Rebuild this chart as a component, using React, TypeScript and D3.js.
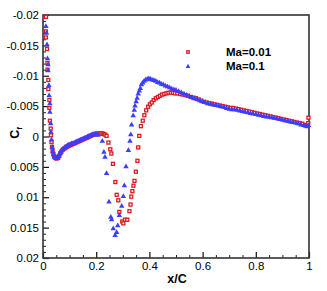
import React, { useEffect, useRef } from "react";
import * as d3 from "d3";

// skin friction, Ma = 0.01 (red squares)
const ma001: [number, number][] = [
  [0.011, -0.0197], [0.011, -0.0173], [0.011, -0.0163], [0.015, -0.0144], [0.017, -0.0121],
  [0.017, -0.011], [0.02, -0.0093], [0.02, -0.0078], [0.024, -0.006], [0.024, -0.0047],
  [0.026, -0.0026], [0.029, -0.0013], [0.03, -0.0002], [0.032, 0.0009], [0.034, 0.0017],
  [0.036, 0.0024], [0.039, 0.0029], [0.042, 0.0032],
  [0.045, 0.0034], [0.049, 0.0036], [0.053, 0.0036], [0.057, 0.0035], [0.061, 0.0032],
  [0.065, 0.0028], [0.069, 0.0025], [0.074, 0.0022], [0.079, 0.002], [0.084, 0.0019],
  [0.089, 0.0017], [0.094, 0.0016], [0.099, 0.0015], [0.104, 0.0014], [0.109, 0.0013],
  [0.114, 0.0012], [0.119, 0.0011], [0.124, 0.001], [0.129, 0.0009], [0.134, 0.0008],
  [0.139, 0.0007], [0.144, 0.0006], [0.149, 0.0005], [0.154, 0.0004], [0.159, 0.0003],
  [0.164, 0.0002], [0.169, 0.0001], [0.174, 0.0], [0.179, -0.0001], [0.184, -0.0002],
  [0.189, -0.0003], [0.194, -0.0003], [0.199, -0.0004], [0.204, -0.0004], [0.209, -0.0005],
  [0.214, -0.0005], [0.219, -0.0005], [0.224, -0.0005], [0.229, -0.0004], [0.234, -0.0003],
  [0.239, -0.0001],
  [0.246, 0.001], [0.253, 0.0021], [0.257, 0.0028], [0.263, 0.0045], [0.272, 0.0075],
  [0.277, 0.0096], [0.283, 0.0105], [0.287, 0.0124], [0.298, 0.014], [0.302, 0.0143],
  [0.308, 0.0137], [0.317, 0.0137], [0.325, 0.0123], [0.329, 0.0112], [0.332, 0.0099],
  [0.336, 0.009], [0.34, 0.0081], [0.344, 0.0073], [0.349, 0.0058], [0.355, 0.004],
  [0.358, 0.0018], [0.362, -0.0001],
  [0.368, -0.0017], [0.375, -0.0026], [0.381, -0.0035], [0.388, -0.0043], [0.395, -0.0049],
  [0.402, -0.0053], [0.409, -0.0056], [0.416, -0.006], [0.424, -0.0063], [0.432, -0.0065],
  [0.44, -0.0067], [0.448, -0.0069], [0.456, -0.007], [0.464, -0.0071], [0.472, -0.0072],
  [0.48, -0.0072], [0.488, -0.0072], [0.496, -0.0071], [0.505, -0.0071], [0.515, -0.007],
  [0.525, -0.0069], [0.535, -0.0068], [0.545, -0.0067], [0.555, -0.0065], [0.565, -0.0064],
  [0.575, -0.0063], [0.585, -0.0061], [0.595, -0.0059], [0.605, -0.0057], [0.615, -0.0056],
  [0.625, -0.0055], [0.635, -0.0054], [0.645, -0.0053], [0.655, -0.0052], [0.665, -0.0051],
  [0.675, -0.005], [0.685, -0.0049], [0.695, -0.0048], [0.705, -0.0047], [0.715, -0.0047],
  [0.725, -0.0046], [0.735, -0.0045], [0.745, -0.0044], [0.755, -0.0043], [0.765, -0.0042],
  [0.775, -0.0041], [0.785, -0.004], [0.795, -0.0039], [0.805, -0.0038], [0.815, -0.0037],
  [0.825, -0.0036], [0.835, -0.0035], [0.845, -0.0034], [0.855, -0.0033], [0.865, -0.0032],
  [0.875, -0.0031], [0.885, -0.003], [0.895, -0.0029], [0.905, -0.0028], [0.915, -0.0027],
  [0.925, -0.0026], [0.935, -0.0025], [0.945, -0.0024], [0.955, -0.0023], [0.965, -0.0022],
  [0.975, -0.0021], [0.985, -0.0019], [0.992, -0.0018], [0.997, -0.0022], [0.998, -0.0031]
];

// skin friction, Ma = 0.1 (blue triangles)
const ma01: [number, number][] = [
  [0.011, -0.0182], [0.013, -0.0171], [0.015, -0.0152], [0.017, -0.0129], [0.019, -0.0119],
  [0.019, -0.0109], [0.022, -0.0085], [0.023, -0.0068], [0.026, -0.0055], [0.026, -0.0041],
  [0.029, -0.0022], [0.03, -0.0008], [0.032, 0.0005], [0.035, 0.0017], [0.037, 0.0024],
  [0.04, 0.0029],
  [0.043, 0.0033], [0.047, 0.0035], [0.051, 0.0035], [0.055, 0.0034], [0.059, 0.0031],
  [0.063, 0.0027], [0.067, 0.0024], [0.072, 0.0021], [0.077, 0.0019], [0.082, 0.0017],
  [0.087, 0.0016], [0.092, 0.0014], [0.097, 0.0013], [0.102, 0.0012], [0.107, 0.0011],
  [0.112, 0.0011], [0.117, 0.001], [0.122, 0.0009], [0.127, 0.0008], [0.132, 0.0007],
  [0.137, 0.0006], [0.142, 0.0005], [0.147, 0.0004], [0.152, 0.0003], [0.157, 0.0002],
  [0.162, 0.0001], [0.167, 0.0], [0.172, -0.0001], [0.177, -0.0002], [0.182, -0.0003],
  [0.187, -0.0004], [0.192, -0.0005], [0.197, -0.0005], [0.202, -0.0005], [0.207, -0.0003],
  [0.223, 0.0007], [0.229, 0.0025], [0.233, 0.0033], [0.239, 0.006], [0.248, 0.0107],
  [0.255, 0.0132], [0.258, 0.0136], [0.264, 0.0151], [0.271, 0.0162], [0.277, 0.0157],
  [0.281, 0.0146], [0.287, 0.0129], [0.296, 0.0114], [0.302, 0.0098], [0.306, 0.008],
  [0.312, 0.0049], [0.321, 0.0022], [0.327, 0.0007], [0.33, -0.0004], [0.333, -0.002],
  [0.339, -0.0035], [0.343, -0.0044],
  [0.346, -0.0051], [0.35, -0.0058], [0.354, -0.0064], [0.358, -0.0071], [0.362, -0.0076],
  [0.366, -0.008], [0.37, -0.0086], [0.375, -0.0089], [0.38, -0.0092], [0.386, -0.0094],
  [0.392, -0.0095], [0.398, -0.0096], [0.404, -0.0095], [0.41, -0.0094], [0.417, -0.0093],
  [0.424, -0.0092], [0.431, -0.009], [0.438, -0.0089], [0.445, -0.0087], [0.452, -0.0086],
  [0.46, -0.0084], [0.468, -0.0083], [0.476, -0.0081], [0.484, -0.0079], [0.492, -0.0078],
  [0.5, -0.0077], [0.51, -0.0075], [0.52, -0.0073], [0.53, -0.0071], [0.54, -0.0069],
  [0.55, -0.0067], [0.56, -0.0065], [0.57, -0.0063], [0.58, -0.0062], [0.59, -0.006],
  [0.6, -0.0058], [0.61, -0.0057], [0.62, -0.0055], [0.63, -0.0054], [0.64, -0.0053],
  [0.65, -0.0052], [0.66, -0.0051], [0.67, -0.005], [0.68, -0.0049], [0.69, -0.0047],
  [0.7, -0.0046], [0.71, -0.0045], [0.72, -0.0045], [0.73, -0.0044], [0.74, -0.0043],
  [0.75, -0.0042], [0.76, -0.0041], [0.77, -0.004], [0.78, -0.0039], [0.79, -0.0038],
  [0.8, -0.0037], [0.81, -0.0036], [0.82, -0.0035], [0.83, -0.0034], [0.84, -0.0033],
  [0.85, -0.0033], [0.86, -0.0032], [0.87, -0.0031], [0.88, -0.003], [0.89, -0.0029],
  [0.9, -0.0028], [0.91, -0.0027], [0.92, -0.0026], [0.93, -0.0025], [0.94, -0.0024],
  [0.95, -0.0023], [0.96, -0.0022], [0.97, -0.002], [0.98, -0.0019], [0.988, -0.0018],
  [0.994, -0.0017], [0.998, -0.0019]
];

const xTicks = [0, 0.2, 0.4, 0.6, 0.8, 1];
const xTickLabels = ["0", "0.2", "0.4", "0.6", "0.8", "1"];
const yTicks = [-0.02, -0.015, -0.01, -0.005, 0, 0.005, 0.01, 0.015, 0.02];
const yTickLabels = ["-0.02", "-0.015", "-0.01", "-0.005", "0", "0.005", "0.01", "0.015", "0.02"];
const seriesNames = ["Ma=0.01", "Ma=0.1"];

const RED = "#dc1a22";
const BLUE = "#3d3dff";
const FONT = "'Liberation Sans', Arial, sans-serif";

function Chart() {
  const ref = useRef<SVGSVGElement>(null);

  useEffect(() => {
    const svg = d3.select(ref.current);
    svg.selectAll("*").remove();

    const margin = { left: 43, top: 15, right: 18, bottom: 33 };
    const W = 327, H = 291;

    const x = d3.scaleLinear().domain([0, 1]).range([margin.left, W - margin.right]);
    const y = d3.scaleLinear().domain([-0.02, 0.02]).range([margin.top, H - margin.bottom]);

    // minor ticks
    const xMinor = d3.range(0, 1.0001, 0.05).filter(v => Math.abs(v / 0.2 - Math.round(v / 0.2)) > 1e-6);
    const yMinor = d3.range(-0.02, 0.02001, 0.001).filter(v => Math.abs(v / 0.005 - Math.round(v / 0.005)) > 1e-6);

    svg.append("g")
      .attr("transform", `translate(0, ${y(0.02)})`)
      .call(d3.axisBottom(x).tickValues(xMinor).tickFormat(() => "").tickSizeInner(-3).tickSizeOuter(0))
      .call(g => g.select(".domain").remove())
      .selectAll("line").attr("stroke", "#222");

    svg.append("g")
      .attr("transform", `translate(${x(0)}, 0)`)
      .call(d3.axisLeft(y).tickValues(yMinor).tickFormat(() => "").tickSizeInner(-3).tickSizeOuter(0))
      .call(g => g.select(".domain").remove())
      .selectAll("line").attr("stroke", "#222");

    // major ticks + labels
    const xAxis = svg.append("g")
      .attr("transform", `translate(0, ${y(0.02)})`)
      .call(d3.axisBottom(x).tickValues(xTicks).tickFormat((d, i) => xTickLabels[i]).tickSizeInner(-6).tickSizeOuter(0).tickPadding(4));
    xAxis.select(".domain").remove();
    xAxis.selectAll("line").attr("stroke", "#111").attr("stroke-width", 1.2);
    xAxis.selectAll("text").attr("font-family", FONT).attr("font-size", 11.5).attr("fill", "#000");

    const yAxis = svg.append("g")
      .attr("transform", `translate(${x(0)}, 0)`)
      .call(d3.axisLeft(y).tickValues(yTicks).tickFormat((d, i) => yTickLabels[i]).tickSizeInner(-6).tickSizeOuter(0).tickPadding(4));
    yAxis.select(".domain").remove();
    yAxis.selectAll("line").attr("stroke", "#111").attr("stroke-width", 1.2);
    yAxis.selectAll("text").attr("font-family", FONT).attr("font-size", 11.5).attr("fill", "#000");

    // frame
    svg.append("rect")
      .attr("x", x(0)).attr("y", y(-0.02))
      .attr("width", x(1) - x(0)).attr("height", y(0.02) - y(-0.02))
      .attr("fill", "none").attr("stroke", "#333").attr("stroke-width", 1.6);

    // markers
    const drawSquares = (g: any, data: [number, number][], s: number) => {
      g.selectAll("rect.sq").data(data).enter().append("rect")
        .attr("class", "sq")
        .attr("x", (d: [number, number]) => x(d[0]) - s / 2)
        .attr("y", (d: [number, number]) => y(d[1]) - s / 2)
        .attr("width", s).attr("height", s)
        .attr("fill", "#fff")
        .attr("stroke", RED).attr("stroke-width", 1.3);
    };

    const drawTriangles = (g: any, data: [number, number][], size: number) => {
      const tri = d3.symbol().type(d3.symbolTriangle).size(size);
      g.selectAll("path.tri").data(data).enter().append("path")
        .attr("class", "tri")
        .attr("d", tri)
        .attr("transform", (d: [number, number]) => `translate(${x(d[0])}, ${y(d[1]) + 0.5})`)
        .attr("fill", BLUE);
    };

    drawSquares(svg.append("g"), ma001, 3);
    drawTriangles(svg.append("g"), ma01, 13);

    // legend
    const lg = svg.append("g");
    drawSquares(lg, [[x.invert(188), y.invert(52)]], 2.4);
    drawTriangles(lg, [[x.invert(188), y.invert(66)]], 10);
    seriesNames.forEach((name, i) => {
      lg.append("text")
        .attr("x", 226).attr("y", 56 + i * 14)
        .attr("font-family", FONT).attr("font-size", 11.5).attr("font-weight", "bold")
        .text(name);
    });

    // axis titles
    svg.append("text")
      .attr("x", 177).attr("y", 283)
      .attr("text-anchor", "middle")
      .attr("font-family", FONT).attr("font-size", 12.5).attr("font-weight", "bold")
      .text("x/C");

    const yt = svg.append("text")
      .attr("transform", `translate(19, 133) rotate(-90)`)
      .attr("text-anchor", "middle")
      .attr("font-family", FONT).attr("font-size", 12.5).attr("font-weight", "bold");
    yt.append("tspan").text("C");
    yt.append("tspan").attr("font-size", 8).attr("dy", 3).text("f");
  }, []);

  return <svg ref={ref} width={327} height={291} style={{ position: "absolute", left: 0, top: 0, background: "#fff" }} />;
}

export default function App() {
  return <Chart />;
}
